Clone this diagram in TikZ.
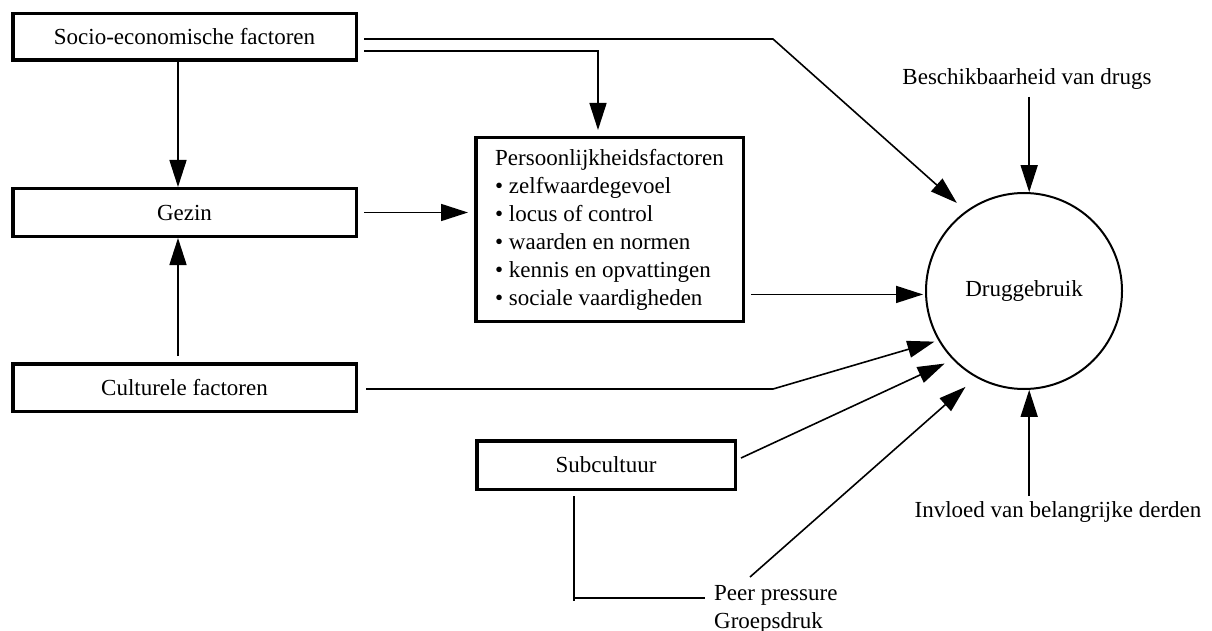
\documentclass[tikz,border=0pt]{standalone}
\usepackage{fontspec}
\setmainfont{Liberation Serif}
\usetikzlibrary{arrows.meta,calc}
\tikzset{
  every node/.style={font=\fontsize{23}{28}\selectfont},
  box/.style={draw, line width=3.5pt, inner sep=0pt, minimum width=343.5pt, minimum height=47.5pt},
  lbl/.style={inner sep=0pt},
  conn/.style={line width=1.6pt},
  arr/.style={conn, -{Triangle[length=27pt,width=17pt]}},
}
\begin{document}
\begin{tikzpicture}[x=1pt,y=-1pt]
\path[use as bounding box] (0,0) rectangle (1212,631);

\node[box, minimum height=46.5pt] (socio) at (184.5,37) {Socio-economische factoren};
\node[box] (gezin) at (184.5,212.5) {Gezin};
\node[box] (cult) at (184.5,387.5) {Culturele factoren};
\node[box, minimum width=267.5pt, minimum height=183.5pt, align=left] (pers) at (609.5,229.5)
  {Persoonlijkheidsfactoren\\
   • zelfwaardegevoel\\
   • locus of control\\
   • waarden en normen\\
   • kennis en opvattingen\\
   • sociale vaardigheden};
\node[box, minimum width=258.5pt, minimum height=48.5pt] (sub) at (606,465) {Subcultuur};
\node[circle, draw, line width=2pt, minimum size=196pt, inner sep=0pt] (drug) at (1024,291) {Druggebruik};
\node[lbl, anchor=south] (besch) at (1027,90) {Beschikbaarheid van drugs};
\node[lbl, anchor=north] (invl) at (1058,501) {Invloed van belangrijke derden};
\node[lbl, anchor=north west, align=left] (peer) at (714,585) {Peer pressure\\Groepsdruk};

\coordinate (j1) at (773,39);
\coordinate (j2) at (598,51);
\coordinate (j3) at (773,389);
\coordinate (b1) at (574,598);

% socio-economische factoren
\draw[arr, shorten >=12pt] ([xshift=6pt]socio.east |- j1) -- (j1) -- (drug.126.6);
\draw[arr] ([xshift=6pt]socio.east |- j2) -- (j2) -- ([yshift=6pt]j2 |- pers.north);
\draw[arr] ([xshift=-6.5pt]socio.south) -- ([xshift=-6.5pt]gezin.north);
% culturele factoren
\draw[arr] ([xshift=-6.5pt,yshift=6pt]cult.north) -- ([xshift=-6.5pt]gezin.south);
\draw[arr, shorten >=4pt] ([xshift=8pt]cult.east |- j3) -- (j3) -- (drug.210.3);
% gezin
\draw[arr] ([xshift=6pt]gezin.east) -- ([xshift=-6pt]pers.west |- gezin.east);
% persoonlijkheid
\draw[arr, shorten >=2pt] ([xshift=6pt]pers.east |- drug.182) -- (drug.182);
% subcultuur
\draw[arr, shorten >=9pt] ([xshift=4pt,yshift=7pt]sub.east) -- (drug.224.6);
\draw[conn] ([yshift=-5pt]sub.south -| b1) -- ([yshift=-3pt]b1);
\draw[conn] (b1) -- ([xshift=-9pt]peer.north west |- b1);
% peer pressure
\draw[arr, shorten >=14pt] ([xshift=36pt,yshift=8pt]peer.north west) -- (drug.241.4);
% beschikbaarheid / invloed
\draw[arr] ([yshift=-7pt]besch.south -| drug.87) -- (drug.87);
\draw[arr] ([yshift=5pt]invl.north -| drug.273) -- (drug.273);
\end{tikzpicture}
\end{document}
